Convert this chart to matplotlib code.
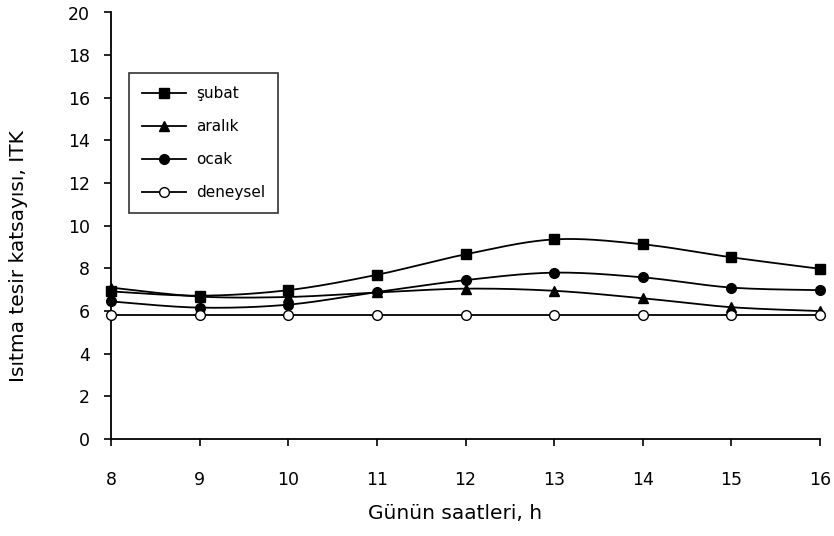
import numpy as np
import matplotlib
matplotlib.use("Agg")
import matplotlib.pyplot as plt
from matplotlib.lines import Line2D

plt.rcParams['font.family'] = ['DejaVu Sans']

hours = [8, 9, 10, 11, 12, 13, 14, 15, 16]
subat = [6.92, 6.72, 6.98, 7.70, 8.66, 9.36, 9.13, 8.52, 7.98]
aralik = [7.10, 6.68, 6.66, 6.87, 7.05, 6.95, 6.60, 6.18, 6.00]
ocak = [6.45, 6.16, 6.30, 6.89, 7.45, 7.80, 7.58, 7.10, 6.98]
deneysel = [5.80, 5.80, 5.80, 5.80, 5.80, 5.80, 5.80, 5.80, 5.80]

labels = ['şubat', 'aralık', 'ocak', 'deneysel']
markers = ['s', '^', 'o', 'o']
facecolors = ['black', 'black', 'black', 'white']


def smooth(x, y, n=30):
    x = np.asarray(x, float)
    y = np.asarray(y, float)
    P = np.column_stack([x, y])
    pts = []
    m = len(P)
    for i in range(m - 1):
        p0 = P[i - 1] if i > 0 else P[i]
        p1 = P[i]
        p2 = P[i + 1]
        p3 = P[i + 2] if i + 2 < m else P[i + 1]
        c1 = p1 + (p2 - p0) / 6.0
        c2 = p2 - (p3 - p1) / 6.0
        t = np.linspace(0, 1, n)[:, None]
        seg = ((1 - t) ** 3) * p1 + 3 * ((1 - t) ** 2) * t * c1 + 3 * (1 - t) * t ** 2 * c2 + t ** 3 * p2
        if i > 0:
            seg = seg[1:]
        pts.append(seg)
    pts = np.vstack(pts)
    return pts[:, 0], pts[:, 1]


W, H = 834, 536
fig = plt.figure(figsize=(W / 100, H / 100), dpi=100)
L, R, T, B = 111, 820, 12.5, 439
ax = fig.add_axes([L / W, 1 - B / H, (R - L) / W, (B - T) / H])

series = [subat, aralik, ocak, deneysel]
handles = []
for vals, lab, mk, fc in zip(series, labels, markers, facecolors):
    sx, sy = smooth(hours, vals)
    ax.plot(sx, sy, color='black', lw=1.3, zorder=2)
    ms = 7 if mk != '^' else 7.5
    ax.plot(hours, vals, linestyle='none', marker=mk, markersize=ms,
            markerfacecolor=fc, markeredgecolor='black', markeredgewidth=1.0,
            clip_on=False, zorder=3)
    handles.append(Line2D([0], [0], color='black', lw=1.3, marker=mk, markersize=ms,
                          markerfacecolor=fc, markeredgecolor='black'))

ax.set_xlim(8, 16)
ax.set_ylim(0, 20)
ax.set_xticks(hours)
ax.set_yticks(np.arange(0, 21, 2))
ax.tick_params(direction='out', length=5, width=1.2, labelsize=12.5)
ax.tick_params(axis='y', pad=10)
ax.tick_params(axis='x', pad=18)
for s in ['top', 'right']:
    ax.spines[s].set_visible(False)
for s in ['left', 'bottom']:
    ax.spines[s].set_linewidth(1.3)

fig.text(455 / W, 1 - 513.5 / H, 'Günün saatleri, h', fontsize=14.5,
         ha='center', va='center')
fig.text(19 / W, 1 - 256 / H, 'Isıtma tesir katsayısı, ITK', fontsize=14.5,
         ha='center', va='center', rotation=90)

leg = ax.legend(handles, labels, loc='upper left',
                bbox_to_anchor=((129 - L) / (R - L), 1 - (73 - T) / (B - T)),
                borderaxespad=0, frameon=True, fancybox=False, edgecolor='black',
                fontsize=11, handlelength=2.9, labelspacing=1.18, borderpad=0.85,
                handletextpad=0.65)
leg.get_frame().set_linewidth(1.2)

fig.savefig('out.png', dpi=100)
